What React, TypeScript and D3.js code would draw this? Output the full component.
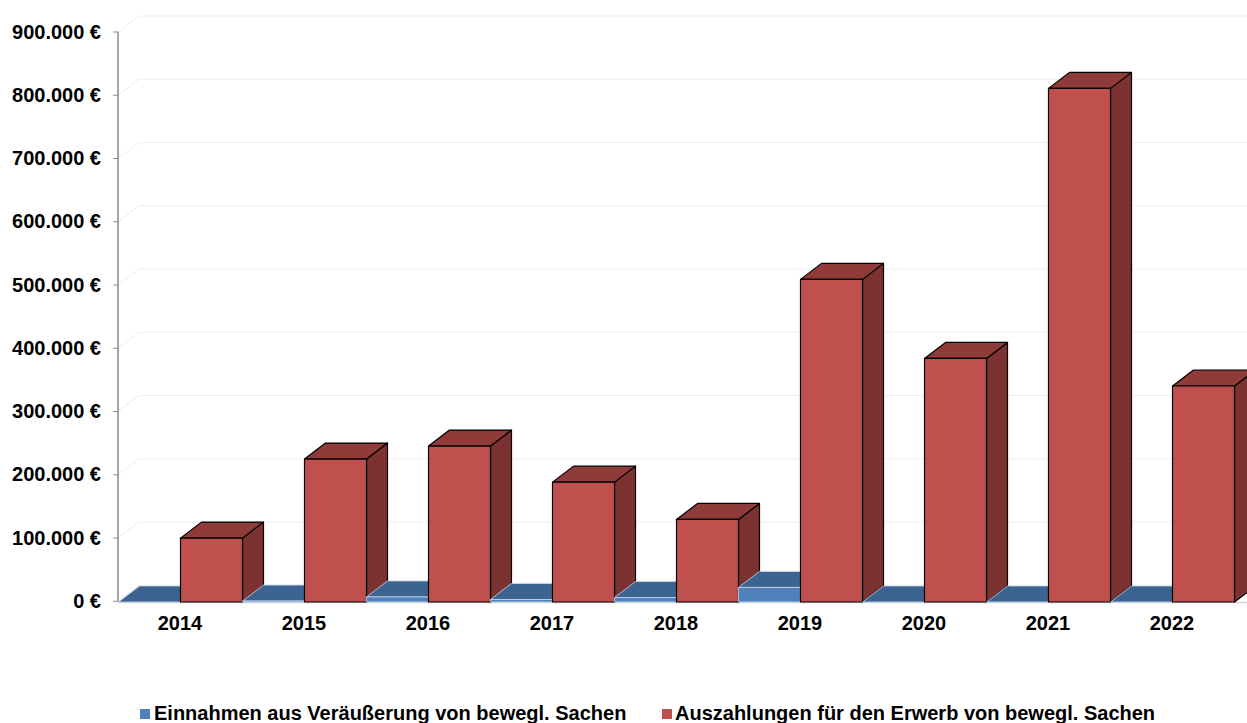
import React from "react";
import * as d3 from "d3";

const years = ["2014", "2015", "2016", "2017", "2018", "2019", "2020", "2021", "2022"];
const einnahmen = [0, 1500, 8000, 4000, 7000, 23000, 0, 0, 0];
const auszahlungen = [101000, 226000, 246500, 189500, 130500, 510000, 385000, 812000, 341500];
const yTicks = [0, 100000, 200000, 300000, 400000, 500000, 600000, 700000, 800000, 900000];
const seriesNames = ["Einnahmen aus Veräußerung von bewegl. Sachen", "Auszahlungen für den Erwerb von bewegl. Sachen"];

const W = 1247, H = 723;
const DX = 21, DY = -16;
const FONT = "'Liberation Sans', Arial, sans-serif";

const x = d3.scaleBand<string>().domain(years).range([118, 1234]).paddingInner(0).paddingOuter(0);
const inner = d3.scaleBand<string>().domain(["a", "b"]).range([0, x.bandwidth()]);
const y = d3.scaleLinear().domain([0, 900000]).range([601.3, 32]);

const C = {
  a: { front: "#4F81BD", top: "#3D6491", side: "#345679", stroke: "#C9D8EC" },
  b: { front: "#C0504D", top: "#8F3B39", side: "#7B3230", stroke: "#000000" },
};

const pts = (p: [number, number][]) => p.map((q) => q.join(",")).join(" ");

function Bar3D({ x0, w, v, c, sw }: { x0: number; w: number; v: number; c: typeof C.a; sw: number }) {
  const yt = y(v), yb = y(0), x1 = x0 + w;
  return (
    <g stroke={c.stroke} strokeWidth={sw} strokeLinejoin="round">
      <polygon points={pts([[x1, yt], [x1 + DX, yt + DY], [x1 + DX, yb + DY], [x1, yb]])} fill={c.side} />
      <polygon points={pts([[x0, yt], [x1, yt], [x1 + DX, yt + DY], [x0 + DX, yt + DY]])} fill={c.top} />
      {v > 0 && <rect x={x0} y={yt} width={w} height={yb - yt} fill={c.front} />}
    </g>
  );
}

export default function App() {
  return (
    <svg width={W} height={H} style={{ position: "absolute", left: 0, top: 0, background: "#fff" }} fontFamily={FONT}>
      {yTicks.map((t) => (
        <polyline
          key={t}
          points={pts([[118, y(t)], [118 + DX, y(t) + DY], [W, y(t) + DY]])}
          fill="none"
          stroke="#EEEEEE"
          strokeWidth={1}
        />
      ))}
      <line x1={118} x2={118} y1={y(900000)} y2={y(0)} stroke="#A6A6A6" strokeWidth={2} />
      <line x1={118} x2={W} y1={y(0) + 1.2} y2={y(0) + 1.2} stroke="#D4D4D4" strokeWidth={1.5} />
      {yTicks.map((t) => (
        <g key={t}>
          <line x1={113} x2={118} y1={y(t)} y2={y(t)} stroke="#8C8C8C" strokeWidth={1} />
          <text x={101} y={y(t) + 6.5} textAnchor="end" fontSize={20} fontWeight={700} fill="#000">
            {`${d3.format(",")(t).replace(/,/g, ".")} €`}
          </text>
        </g>
      ))}
      <g transform="translate(0.5,0.7)">
        {years.map((yr, i) => (
          <g key={yr}>
            <Bar3D x0={x(yr)! + inner("a")!} w={inner.bandwidth()} v={einnahmen[i]} c={C.a} sw={0.8} />
            <Bar3D x0={x(yr)! + inner("b")!} w={inner.bandwidth()} v={auszahlungen[i]} c={C.b} sw={1.2} />
          </g>
        ))}
      </g>
      {years.map((yr) => (
        <text key={yr} x={x(yr)! + x.bandwidth() / 2} y={630} textAnchor="middle" fontSize={20} fontWeight={700} fill="#000">
          {yr}
        </text>
      ))}
      <rect x={140} y={709} width={10} height={10} fill={C.a.front} />
      <text x={154} y={720} fontSize={20} fontWeight={700} fill="#000">{seriesNames[0]}</text>
      <rect x={662} y={709} width={10} height={10} fill={C.b.front} />
      <text x={675} y={720} fontSize={20} fontWeight={700} fill="#000">{seriesNames[1]}</text>
    </svg>
  );
}
